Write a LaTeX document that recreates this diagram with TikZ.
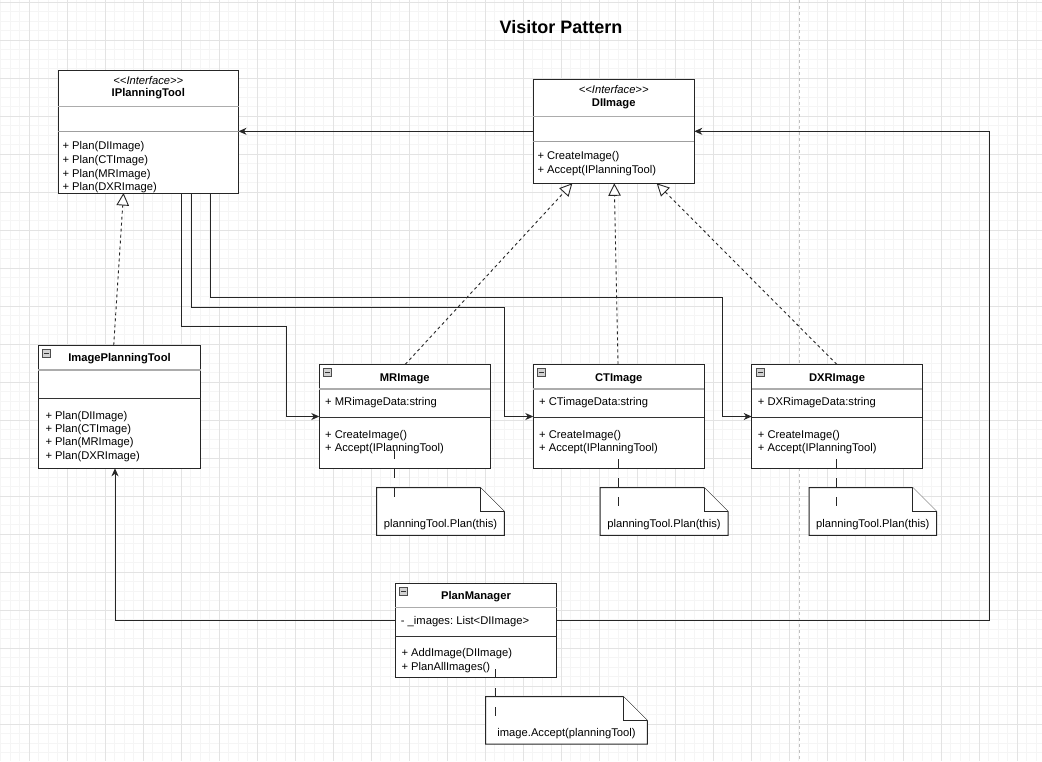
\documentclass[tikz,border=0pt]{standalone}
\usepackage{fontspec}
\setmainfont{Liberation Sans}
\usetikzlibrary{arrows.meta}
\frenchspacing
\newcommand\mynotepath[1]{%
  \draw[notebox] (#1.north west) -- ([xshift=-24pt]#1.north east) -- ([yshift=-24pt]#1.north east) -- (#1.south east) -- (#1.south west) -- cycle;
  \draw[notebox] ([xshift=-24pt]#1.north east) -- ([xshift=-24pt,yshift=-24pt]#1.north east) -- ([yshift=-24pt]#1.north east);}
\newcommand\myboxicon[2]{%
  \node[iconbox] (#1) at ([xshift=4.5pt,yshift=-4.5pt]#2.north west) {};
  \draw[line width=0.9pt, black!80] ([xshift=1.6pt]#1.west) -- ([xshift=-1.6pt]#1.east);}
\begin{document}
\frenchspacing
\begin{tikzpicture}[x=1pt,y=-1pt,
  gridminor/.style={draw=gray!8, line width=0.7pt},
  gridmajor/.style={draw=gray!22, line width=0.8pt},
  umlbox/.style={draw=black!85, line width=1pt, fill=white, inner sep=0pt, outer sep=0pt, anchor=north west},
  notearea/.style={inner sep=0pt, outer sep=0pt, anchor=north west},
  notebox/.style={draw=black!85, line width=1pt, fill=white, line join=miter},
  sepA/.style={draw=gray!65, line width=1.5pt},
  sepB/.style={draw=black!80, line width=0.9pt},
  sepC/.style={draw=gray!75, line width=1pt},
  txt/.style={font=\fontsize{11.2}{13}\selectfont, inner sep=0pt, anchor=base west},
  ctxt/.style={font=\fontsize{11.2}{13}\selectfont, inner sep=0pt, anchor=base},
  cname/.style={font=\fontsize{11.2}{13}\selectfont\bfseries, inner sep=0pt, anchor=base},
  stereo/.style={font=\fontsize{11.2}{13}\selectfont\itshape, inner sep=0pt, anchor=base},
  assoc/.style={draw=black!85, line width=1pt, -{Stealth[length=8pt,width=7pt,inset=2.5pt]}},
  realize/.style={draw=black!85, line width=0.9pt, dash pattern=on 3pt off 3pt, -{Triangle[open,length=12.5pt,width=12.5pt,fill=white]}},
  noteline/.style={draw=black!85, line width=1pt, dash pattern=on 9pt off 10pt},
  iconbox/.style={draw=gray!60!black, fill=gray!35, line width=0.7pt, minimum size=8pt, inner sep=0pt, outer sep=0pt, anchor=north west}
]
\useasboundingbox (0,0) rectangle (1042,761);
\fill[white] (0,0) rectangle (1042,761);
% grid
\foreach \i in {0,...,109} \draw[gridminor] ({0.8+9.5*\i},0) -- ({0.8+9.5*\i},761);
\foreach \j in {0,...,79} \draw[gridminor] (0,{2.3+9.5*\j}) -- (1042,{2.3+9.5*\j});
\foreach \i in {0,...,26} \draw[gridmajor] ({29.3+38*\i},0) -- ({29.3+38*\i},761);
\foreach \j in {0,...,19} \draw[gridmajor] (0,{2.3+38*\j}) -- (1042,{2.3+38*\j});
\draw[draw=gray!50, line width=0.8pt, dash pattern=on 3pt off 3pt] (799.3,0) -- (799.3,761);

% title
\node[font=\fontsize{18}{21}\selectfont\bfseries, inner sep=0pt] (title) at (561,27) {Visitor Pattern};

% boxes
\node[umlbox, minimum width=180.5pt, minimum height=123pt] (ipt) at (58,70) {};
\node[umlbox, minimum width=161.3pt, minimum height=104pt] (dii) at (533,79.3) {};
\node[umlbox, minimum width=162.4pt, minimum height=123pt] (ipl) at (38.3,345.3) {};
\node[umlbox, minimum width=171pt, minimum height=104.4pt] (mr) at (319.3,364.3) {};
\node[umlbox, minimum width=171pt, minimum height=104.4pt] (ct) at (533.3,364.3) {};
\node[umlbox, minimum width=170.6pt, minimum height=104.4pt] (dxr) at (751.7,364.3) {};
\node[umlbox, minimum width=161.4pt, minimum height=94.7pt] (pm) at (395.3,583) {};

% notes
\node[notearea, minimum width=127.6pt, minimum height=47.6pt] (mrn) at (376.7,487.7) {};
\node[notearea, minimum width=128pt, minimum height=47.6pt] (ctn) at (600,487.7) {};
\node[notearea, minimum width=127.7pt, minimum height=47.6pt] (dxrn) at (809,487.7) {};
\node[notearea, minimum width=161.6pt, minimum height=47.3pt] (pmn) at (485.7,696.7) {};
\mynotepath{mrn}
\mynotepath{ctn}
\mynotepath{dxrn}
\mynotepath{pmn}

% separators
\draw[sepA] ([yshift=-36.7pt]ipt.north west) -- ([yshift=-36.7pt]ipt.north east);
\draw[sepC] ([yshift=-61.7pt]ipt.north west) -- ([yshift=-61.7pt]ipt.north east);
\draw[sepA] ([yshift=-37.4pt]dii.north west) -- ([yshift=-37.4pt]dii.north east);
\draw[sepC] ([yshift=-62.4pt]dii.north west) -- ([yshift=-62.4pt]dii.north east);
\draw[sepA] ([yshift=-24.7pt]ipl.north west) -- ([yshift=-24.7pt]ipl.north east);
\draw[sepB] ([yshift=-53pt]ipl.north west) -- ([yshift=-53pt]ipl.north east);
\foreach \b in {mr,ct,dxr} {
  \draw[sepA] ([yshift=-24.7pt]\b.north west) -- ([yshift=-24.7pt]\b.north east);
  \draw[sepB] ([yshift=-53pt]\b.north west) -- ([yshift=-53pt]\b.north east);
}
\draw[sepA] ([yshift=-24.3pt]pm.north west) -- ([yshift=-24.3pt]pm.north east);
\draw[sepB] ([yshift=-53pt]pm.north west) -- ([yshift=-53pt]pm.north east);

% icons
\myboxicon{ipli}{ipl}
\myboxicon{mri}{mr}
\myboxicon{cti}{ct}
\myboxicon{dxri}{dxr}
\myboxicon{pmi}{pm}

% texts IPlanningTool
\node[stereo] (iptst) at (148.3,84) {<{}<Interface>{}>};
\node[cname] (iptn) at (148.3,96.8) {IPlanningTool};
\node[txt] (iptm1) at (62.3,149.3) {+ Plan(DIImage)};
\node[txt] (iptm2) at (62.3,163.3) {+ Plan(CTImage)};
\node[txt] (iptm3) at (62.3,177.1) {+ Plan(MRImage)};
\node[txt] (iptm4) at (62.3,190.5) {+ Plan(DXRImage)};
% DIImage
\node[stereo] (diist) at (613.7,93.3) {<{}<Interface>{}>};
\node[cname] (diin) at (613.7,106) {DIImage};
\node[txt] (diim1) at (537.3,159) {+ CreateImage()};
\node[txt] (diim2) at (537.3,173.2) {+ Accept(IPlanningTool)};
% ImagePlanningTool
\node[cname] (ipln) at (119.5,361.7) {ImagePlanningTool};
\node[txt] (iplm1) at (45.3,419.3) {+ Plan(DIImage)};
\node[txt] (iplm2) at (45.3,432.4) {+ Plan(CTImage)};
\node[txt] (iplm3) at (45.3,445.6) {+ Plan(MRImage)};
\node[txt] (iplm4) at (45.3,459) {+ Plan(DXRImage)};
% MRImage
\node[cname] (mrn0) at (404.8,381.3) {MRImage};
\node[txt] (mra) at (325,405.5) {+ MRimageData:string};
\node[txt] (mrm1) at (325,438) {+ CreateImage()};
\node[txt] (mrm2) at (325,451) {+ Accept(IPlanningTool)};
% CTImage
\node[cname] (ctn0) at (618.8,381.3) {CTImage};
\node[txt] (cta) at (539,405.5) {+ CTimageData:string};
\node[txt] (ctm1) at (539,438) {+ CreateImage()};
\node[txt] (ctm2) at (539,451) {+ Accept(IPlanningTool)};
% DXRImage
\node[cname] (dxrn0) at (837,381.3) {DXRImage};
\node[txt] (dxra) at (757.7,405.5) {+ DXRimageData:string};
\node[txt] (dxrm1) at (757.7,438) {+ CreateImage()};
\node[txt] (dxrm2) at (757.7,451) {+ Accept(IPlanningTool)};
% PlanManager
\node[cname] (pmn0) at (476,599.7) {PlanManager};
\node[txt] (pma) at (400.7,624) {- \_images: List<DIImage>};
\node[txt] (pmm1) at (401.3,656.3) {+ AddImage(DIImage)};
\node[txt] (pmm2) at (401.3,670) {+ PlanAllImages()};
% note texts
\node[ctxt] (mrnt) at (440.5,527.7) {planningTool.Plan(this)};
\node[ctxt] (ctnt) at (664,527.7) {planningTool.Plan(this)};
\node[ctxt] (dxrnt) at (872.8,527.7) {planningTool.Plan(this)};
\node[ctxt] (pmnt) at (566.5,736.7) {image.Accept(planningTool)};

% realization connectors
\draw[realize] ([xshift=75.4pt]ipl.north west) -- ([xshift=65.5pt]ipt.south west);
\draw[realize] ([xshift=86pt]mr.north west) -- ([xshift=39.3pt]dii.south west);
\draw[realize] ([xshift=84.7pt]ct.north west) -- ([xshift=81.3pt]dii.south west);
\draw[realize] ([xshift=85pt]dxr.north west) -- ([xshift=123.7pt]dii.south west);

% associations
\draw[assoc] (dii.west) -- (ipt.east |- dii.west);
\coordinate (b1) at (286,326);
\coordinate (b2) at (504.5,307.3);
\coordinate (b3) at (722.7,297.5);
\draw[assoc] ([xshift=123.7pt]ipt.south west) |- (b1) |- (mr.west);
\draw[assoc] ([xshift=133pt]ipt.south west) |- (b2) |- (ct.west);
\draw[assoc] ([xshift=152.3pt]ipt.south west) |- (b3) |- (dxr.west);
\coordinate (b4) at (115,620.5);
\coordinate (b5) at (989.5,620.5);
\draw[assoc] (pm.west |- b4) -- (b4) -- (b4 |- ipl.south);
\draw[assoc] (pm.east |- b5) -- (b5) |- (dii.east);

% note connectors
\coordinate (c1a) at (394.3,450);   \coordinate (c1b) at (394.3,497);
\coordinate (c2a) at (618,459.3);   \coordinate (c2b) at (618,507);
\coordinate (c3a) at (836.7,459.3); \coordinate (c3b) at (836.7,507);
\coordinate (c4a) at (495,669);     \coordinate (c4b) at (495,716);
\draw[noteline] (c1a) -- (c1b);
\draw[noteline] (c2a) -- (c2b);
\draw[noteline] (c3a) -- (c3b);
\draw[noteline] (c4a) -- (c4b);
\end{tikzpicture}
\end{document}
